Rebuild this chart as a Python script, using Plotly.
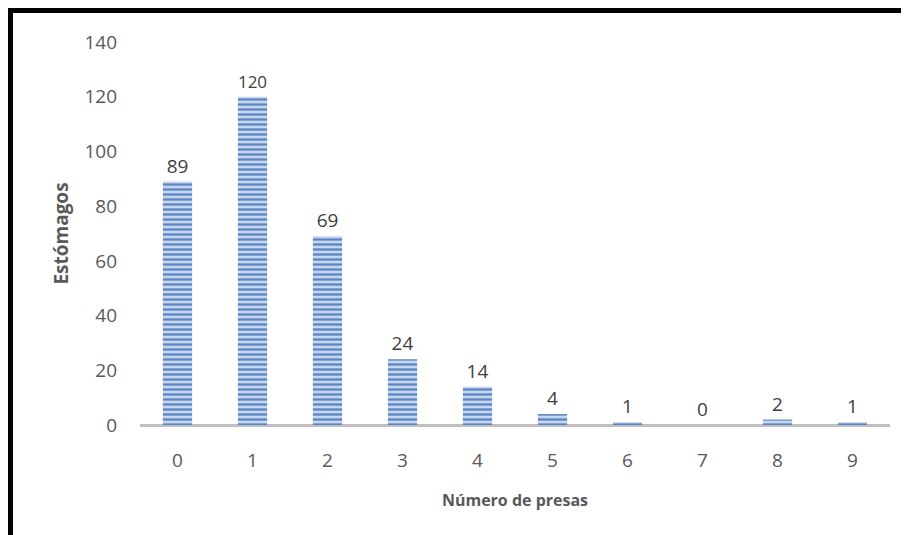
import plotly.graph_objects as go

categories = ["0", "1", "2", "3", "4", "5", "6", "7", "8", "9"]
values = [89, 120, 69, 24, 14, 4, 1, 0, 2, 1]
y_ticks = [0, 20, 40, 60, 80, 100, 120, 140]

# page body has an 8px margin; compensate so the plot lands where the reference has it
OFF = 8
W, H = 909, 535
L, R, T, B = 140 - OFF, 19 + OFF, 42 - OFF, 110 + OFF
pw, ph = W - L - R, H - T - B

def px2x(p):  # window pixel -> paper x
    return (p - OFF - L) / pw

def px2y(p):  # window pixel -> paper y
    return (H - B - (p - OFF)) / ph

FONT = "Open Sans, Liberation Sans, sans-serif"

fig = go.Figure()
fig.add_trace(go.Bar(
    x=categories, y=values,
    width=0.39,
    marker=dict(
        color="#b4c8e6",
        line=dict(width=0),
        pattern=dict(shape="-", fgcolor="#5a84c4", bgcolor="#c6d6ee", size=5, solidity=0.45, fillmode="replace"),
    ),
    text=[str(v) for v in values],
    textposition="outside",
    textfont=dict(family=FONT, size=19, color="#404040"),
    cliponaxis=False,
))

fig.update_layout(
    width=W, height=H,
    margin=dict(l=L, r=R, t=T, b=B),
    plot_bgcolor="white", paper_bgcolor="white",
    showlegend=False,
    bargap=0.6,
    font=dict(family=FONT, color="#595959", size=19),
    xaxis=dict(
        type="category", range=[-0.5, 9.5],
        showgrid=False, showline=False, zeroline=False,
        ticks="", tickfont=dict(size=19, color="#595959"),
        ticklabelstandoff=22,
        title=dict(text="<b>Número de presas</b>", font=dict(size=16, color="#595959"), standoff=22),
    ),
    yaxis=dict(
        range=[0, 140], tickvals=y_ticks,
        showgrid=False, showline=False,
        zeroline=True, zerolinecolor="#bfbfbf", zerolinewidth=3,
        ticks="", tickfont=dict(size=19, color="#595959"),
        ticklabelstandoff=22,
        title=dict(text="<b>Estómagos</b>", font=dict(size=19, color="#595959"), standoff=10),
    ),
    shapes=[
        dict(type="line", xref="paper", yref="paper",
             x0=px2x(5), x1=px2x(W + 20), y0=px2y(7), y1=px2y(7),
             line=dict(color="#c8c8c8", width=1)),
        dict(type="rect", xref="paper", yref="paper",
             x0=px2x(10), x1=px2x(W + 30), y0=px2y(H + 30), y1=px2y(10),
             line=dict(color="black", width=6), fillcolor="rgba(0,0,0,0)", layer="above"),
    ],
)

fig.write_html("out.html")
